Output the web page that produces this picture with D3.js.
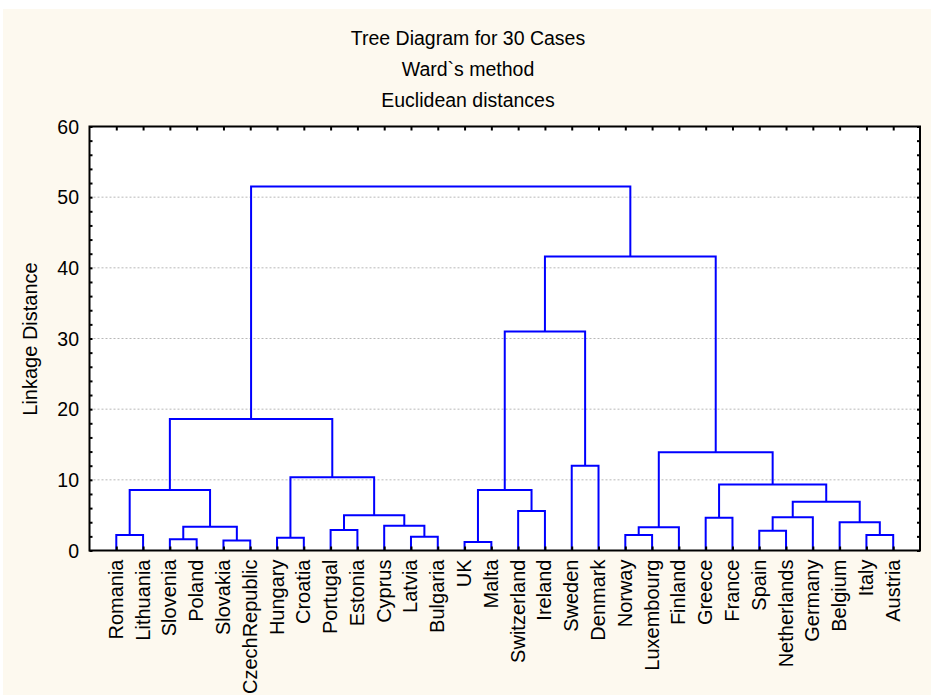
<!DOCTYPE html>
<html>
<head>
<meta charset="utf-8">
<script src="https://cdn.jsdelivr.net/npm/d3@7"></script>
<style>
  html, body { margin: 0; padding: 0; background: #ffffff; }
  svg { display: block; }
  text { font-family: "Liberation Sans", Arial, sans-serif; fill: #000; }
</style>
</head>
<body>
<svg id="chart" width="931" height="695"></svg>
<script>
// ---- data ----
const titleLines = ["Tree Diagram for 30 Cases", "Ward`s method", "Euclidean distances"];
const yLabel = "Linkage Distance";
const leaves = ["Romania", "Lithuania", "Slovenia", "Poland", "Slovakia", "CzechRepublic",
  "Hungary", "Croatia", "Portugal", "Estonia", "Cyprus", "Latvia", "Bulgaria",
  "UK", "Malta", "Switzerland", "Ireland", "Sweden", "Denmark",
  "Norway", "Luxembourg", "Finland", "Greece", "France", "Spain", "Netherlands",
  "Germany", "Belgium", "Italy", "Austria"];
// merges: [childA, childB, height]; ids < 30 are leaves, id 30+k is merge k
const mergeA = [13, 4, 2, 6, 11, 0, 19, 28, 24, 8, 32, 36, 10, 27, 22, 38, 39, 15, 45, 35, 30, 44, 33, 17, 41, 49, 50, 56, 55];
const mergeB = [14, 5, 3, 7, 12, 1, 20, 29, 25, 9, 31, 21, 34, 37, 23, 26, 42, 16, 43, 40, 47, 48, 46, 18, 51, 52, 53, 54, 57];
const mergeH = [1.2, 1.4, 1.6, 1.8, 1.95, 2.2, 2.2, 2.2, 2.8, 2.9, 3.35, 3.3, 3.5, 4.0, 4.65, 4.7, 5.0, 5.6, 6.9, 8.55, 8.55, 9.35, 10.35, 12.0, 13.9, 18.6, 31.0, 41.6, 51.5];
const yTicks = [0, 10, 20, 30, 40, 50, 60];
const yMinorTicks = d3.range(0, 61, 2);

// ---- layout ----
const W = 931, H = 695;
const L = 89.5, R = 920, T = 126.5, B = 550.5;
const svg = d3.select("#chart");

svg.append("rect").attr("x", 3).attr("y", 9).attr("width", W - 3).attr("height", H - 9).attr("fill", "#fdf9ef");
svg.append("rect").attr("x", L).attr("y", T).attr("width", R - L).attr("height", B - T).attr("fill", "#ffffff");

const x = d3.scaleLinear().domain([0, leaves.length + 1]).range([L, R]);
const y = d3.scaleLinear().domain([0, 60]).range([B, T]);

// grid
svg.append("g").selectAll("line").data(yTicks.filter(v => v > 0 && v < 60)).join("line")
  .attr("x1", L).attr("x2", R).attr("y1", d => y(d)).attr("y2", d => y(d))
  .attr("stroke", "#b8b8b8").attr("stroke-width", 1).attr("stroke-dasharray", "2,2");

// node positions
const nodeX = leaves.map((_, i) => x(i + 1));
const nodeH = leaves.map(() => 0);
const links = [];
mergeA.forEach((a, k) => {
  const b = mergeB[k], h = mergeH[k];
  links.push({ xa: nodeX[a], ha: nodeH[a], xb: nodeX[b], hb: nodeH[b], h });
  nodeX.push((nodeX[a] + nodeX[b]) / 2);
  nodeH.push(h);
});

svg.append("g").selectAll("path").data(links).join("path")
  .attr("d", d => `M${d.xa},${y(d.ha)}V${y(d.h)}H${d.xb}V${y(d.hb)}`)
  .attr("fill", "none").attr("stroke", "#0000ff").attr("stroke-width", 2)
  .attr("stroke-linejoin", "miter");

// axes with inward ticks
const leafPos = leaves.map((_, i) => i + 1);
svg.append("g").attr("transform", `translate(0,${T})`)
  .call(d3.axisBottom(x).tickValues(leafPos).tickSize(4).tickFormat(""))
  .call(g => g.select(".domain").remove())
  .selectAll("line").attr("stroke", "#000").attr("stroke-width", 2);
svg.append("g").attr("transform", `translate(0,${B})`)
  .call(d3.axisTop(x).tickValues(leafPos).tickSize(4).tickFormat(""))
  .call(g => g.select(".domain").remove())
  .selectAll("line").attr("stroke", "#000").attr("stroke-width", 2);
svg.append("g").attr("transform", `translate(${L},0)`)
  .call(d3.axisRight(y).tickValues(yMinorTicks).tickSize(3).tickFormat(""))
  .call(g => g.select(".domain").remove())
  .selectAll("line").attr("stroke", "#000").attr("stroke-width", 2);
svg.append("g").attr("transform", `translate(${R},0)`)
  .call(d3.axisLeft(y).tickValues(yMinorTicks).tickSize(3).tickFormat(""))
  .call(g => g.select(".domain").remove())
  .selectAll("line").attr("stroke", "#000").attr("stroke-width", 2);

// frame
svg.append("rect").attr("x", L).attr("y", T).attr("width", R - L).attr("height", B - T)
  .attr("fill", "none").attr("stroke", "#000").attr("stroke-width", 2);

// y tick labels
svg.append("g").selectAll("text").data(yTicks).join("text")
  .attr("x", 79).attr("y", d => y(d)).attr("dy", "0.36em")
  .attr("text-anchor", "end").attr("font-size", 19.5).text(d => d);

// y label
svg.append("text").attr("transform", `translate(37,339) rotate(-90)`)
  .attr("text-anchor", "middle").attr("font-size", 20).text(yLabel);

// leaf labels
svg.append("g").selectAll("text").data(leaves).join("text")
  .attr("transform", (d, i) => `translate(${x(i + 1) + 6.5},${B + 9}) rotate(-90)`)
  .attr("text-anchor", "end").attr("font-size", 20).text(d => d);

// titles
svg.append("g").selectAll("text").data(titleLines).join("text")
  .attr("x", 468).attr("y", (d, i) => 45 + i * 31)
  .attr("text-anchor", "middle").attr("font-size", 19.5).text(d => d);
</script>
</body>
</html>
